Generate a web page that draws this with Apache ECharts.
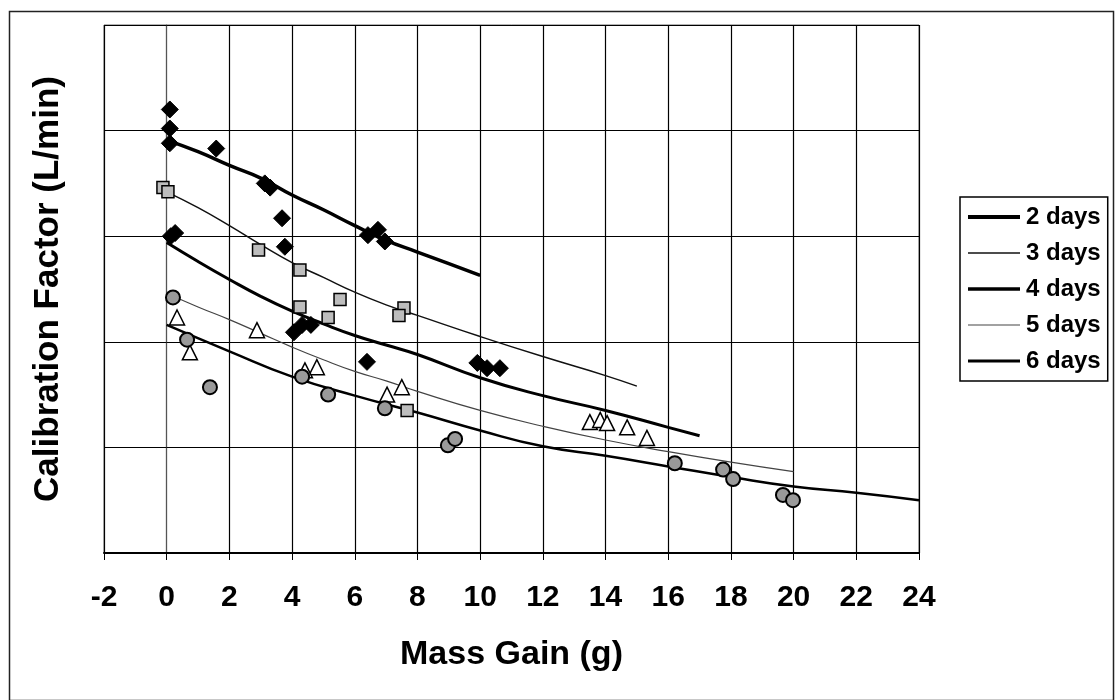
<!DOCTYPE html>
<html>
<head>
<meta charset="utf-8">
<script src="https://cdn.jsdelivr.net/npm/echarts@6/dist/echarts.min.js"></script>
<style>
html,body{margin:0;padding:0;background:#fff;}
#chart{width:1115px;height:700px;}
</style>
</head>
<body>
<div id="chart"></div>
<script>
// ---- Data (x = mass gain in g, y = calibration factor, unlabelled axis units) ----
const seriesNames = ['2 days', '3 days', '4 days', '5 days', '6 days'];
const xTickLabels = ['-2','0','2','4','6','8','10','12','14','16','18','20','22','24'];

// fitted curves
const fit2 = [[0,3.91],[1,3.80],[2,3.67],[3,3.55],[4,3.39],[5,3.25],[6,3.10],[7,2.96],[8,2.85],[9,2.74],[10,2.63]];
const fit3 = [[0,3.42],[1,3.27],[2,3.10],[3,2.92],[4,2.75],[5,2.61],[6,2.47],[7,2.35],[8,2.25],[10,2.05],[12,1.86],[14,1.68],[15,1.58]];
const fit4 = [[0,2.94],[1,2.76],[2,2.59],[3,2.43],[4,2.29],[5,2.17],[6,2.06],[7,1.97],[8,1.88],[10,1.66],[12,1.49],[14,1.35],[16,1.19],[17,1.11]];
const fit5 = [[0,2.46],[1,2.33],[2,2.21],[3,2.08],[4,1.95],[5,1.83],[6,1.72],[7,1.63],[8,1.53],[10,1.35],[12,1.20],[14,1.07],[16,0.96],[18,0.86],[20,0.77]];
const fit6 = [[0,2.16],[2,1.91],[4,1.67],[6,1.49],[8,1.33],[10,1.16],[12,1.01],[14,0.92],[16,0.82],[18,0.72],[20,0.63],[22,0.57],[24,0.50]];

// measured points
const pts2 = [[0.1,4.20],[0.1,4.02],[0.1,3.88],[1.58,3.83],[3.13,3.50],[3.30,3.46],[3.68,3.17],[3.77,2.90],[6.42,3.01],[6.74,3.06],[6.96,2.95]];
const pts3 = [[-0.12,3.46],[0.04,3.42],[2.93,2.87],[4.25,2.68],[4.25,2.33],[5.53,2.40],[5.15,2.23],[7.57,2.32],[7.41,2.25],[7.67,1.35]];
const pts4 = [[0.27,3.03],[0.13,3.00],[4.06,2.09],[4.32,2.16],[4.60,2.16],[6.39,1.81],[9.91,1.80],[10.22,1.75],[10.63,1.75]];
const pts5 = [[0.33,2.23],[0.74,1.90],[2.88,2.11],[4.79,1.76],[4.41,1.73],[7.50,1.57],[7.03,1.50],[13.5,1.24],[13.83,1.26],[14.05,1.23],[14.69,1.19],[15.32,1.09]];
const pts6 = [[0.2,2.42],[0.65,2.02],[1.38,1.57],[4.32,1.67],[5.15,1.50],[6.96,1.37],[8.97,1.02],[9.20,1.08],[16.21,0.85],[17.75,0.79],[18.07,0.70],[19.66,0.55],[19.98,0.50]];

const FONT = 'Arial, "Liberation Sans", Helvetica, sans-serif';

const chart = echarts.init(document.getElementById('chart'));

function fitSeries(name, data, width, color) {
  return {
    name: name, type: 'line', data: data, smooth: true, symbol: 'none',
    lineStyle: { color: color, width: width }, itemStyle: { color: color },
    z: 3, silent: true
  };
}
function ptSeries(name, data, symbol, size, fill, border, bw) {
  return {
    name: name, type: 'scatter', data: data, symbol: symbol, symbolSize: size,
    itemStyle: { color: fill, borderColor: border, borderWidth: bw, opacity: 1 },
    z: 5, silent: true
  };
}

// legend icons: plain bars whose aspect gives the line thickness
const legendIcons = [
  'path://M0,0H52V4H0Z',
  'path://M0,0H104V3H0Z',
  'path://M0,0H104V7H0Z',
  'path://M0,0H130V3H0Z',
  'path://M0,0H52V3H0Z'
];

chart.setOption({
  animation: false,
  backgroundColor: '#fff',
  grid: { left: 104, right: 196, top: 25, bottom: 147, show: true, borderColor: '#666', borderWidth: 1 },
  xAxis: {
    type: 'value', min: -2, max: 24, interval: 2,
    name: 'Mass Gain (g)', nameLocation: 'middle', nameGap: 85,
    nameTextStyle: { fontFamily: FONT, fontWeight: 'bold', fontSize: 34, color: '#000' },
    axisLine: { show: true, onZero: false, lineStyle: { color: '#000', width: 2 } },
    axisTick: { show: true, length: 7, lineStyle: { color: '#000', width: 1 } },
    axisLabel: {
      margin: 30, fontFamily: FONT, fontWeight: 'bold', fontSize: 30, color: '#000',
      formatter: function (v) { const i = Math.round((v + 2) / 2); return xTickLabels[i] !== undefined ? xTickLabels[i] : String(v); }
    },
    splitLine: { show: true, lineStyle: { color: '#000', width: 1.2 } }
  },
  yAxis: {
    type: 'value', min: 0, max: 5, interval: 1,
    name: 'Calibration Factor (L/min)', nameLocation: 'middle', nameGap: 38, nameRotate: 90,
    nameTextStyle: { fontFamily: FONT, fontWeight: 'bold', fontSize: 35, color: '#000' },
    axisLine: { show: true, lineStyle: { color: '#555', width: 1 } },
    axisTick: { show: true, length: 3, lineStyle: { color: '#000' } },
    axisLabel: { show: false },
    splitLine: { show: true, lineStyle: { color: '#000', width: 1.2 } }
  },
  legend: {
    data: seriesNames.map(function (n, i) { return { name: n, icon: legendIcons[i] }; }),
    orient: 'vertical', left: 960, top: 197,
    padding: [8, 7, 8, 8], itemGap: 12, itemWidth: 52, itemHeight: 14,
    backgroundColor: '#fff', borderColor: '#000', borderWidth: 1.5, borderRadius: 0,
    textStyle: { fontFamily: FONT, fontWeight: 'bold', fontSize: 24, color: '#000', padding: [0, 0, 0, 1] },
    selectedMode: false
  },
  graphic: [{
    type: 'rect', left: 7, top: 9, z: -1, silent: true,
    shape: { width: 1104, height: 689 },
    style: { fill: 'none', stroke: '#222', lineWidth: 1.5 }
  }],
  series: [
    fitSeries('2 days', fit2, 3.5, '#000'),
    fitSeries('3 days', fit3, 1.5, '#111'),
    fitSeries('4 days', fit4, 3, '#000'),
    fitSeries('5 days', fit5, 1.2, '#444'),
    fitSeries('6 days', fit6, 2.5, '#000'),
    ptSeries('2 days pts', pts2, 'diamond', 17, '#000', '#000', 1),
    ptSeries('3 days pts', pts3, 'rect', 12, '#bdbdbd', '#000', 1.5),
    ptSeries('4 days pts', pts4, 'diamond', 17, '#000', '#000', 1),
    ptSeries('5 days pts', pts5, 'triangle', 15, '#fff', '#000', 1.5),
    ptSeries('6 days pts', pts6, 'circle', 14, '#9a9a9a', '#000', 2)
  ]
});
</script>
</body>
</html>
